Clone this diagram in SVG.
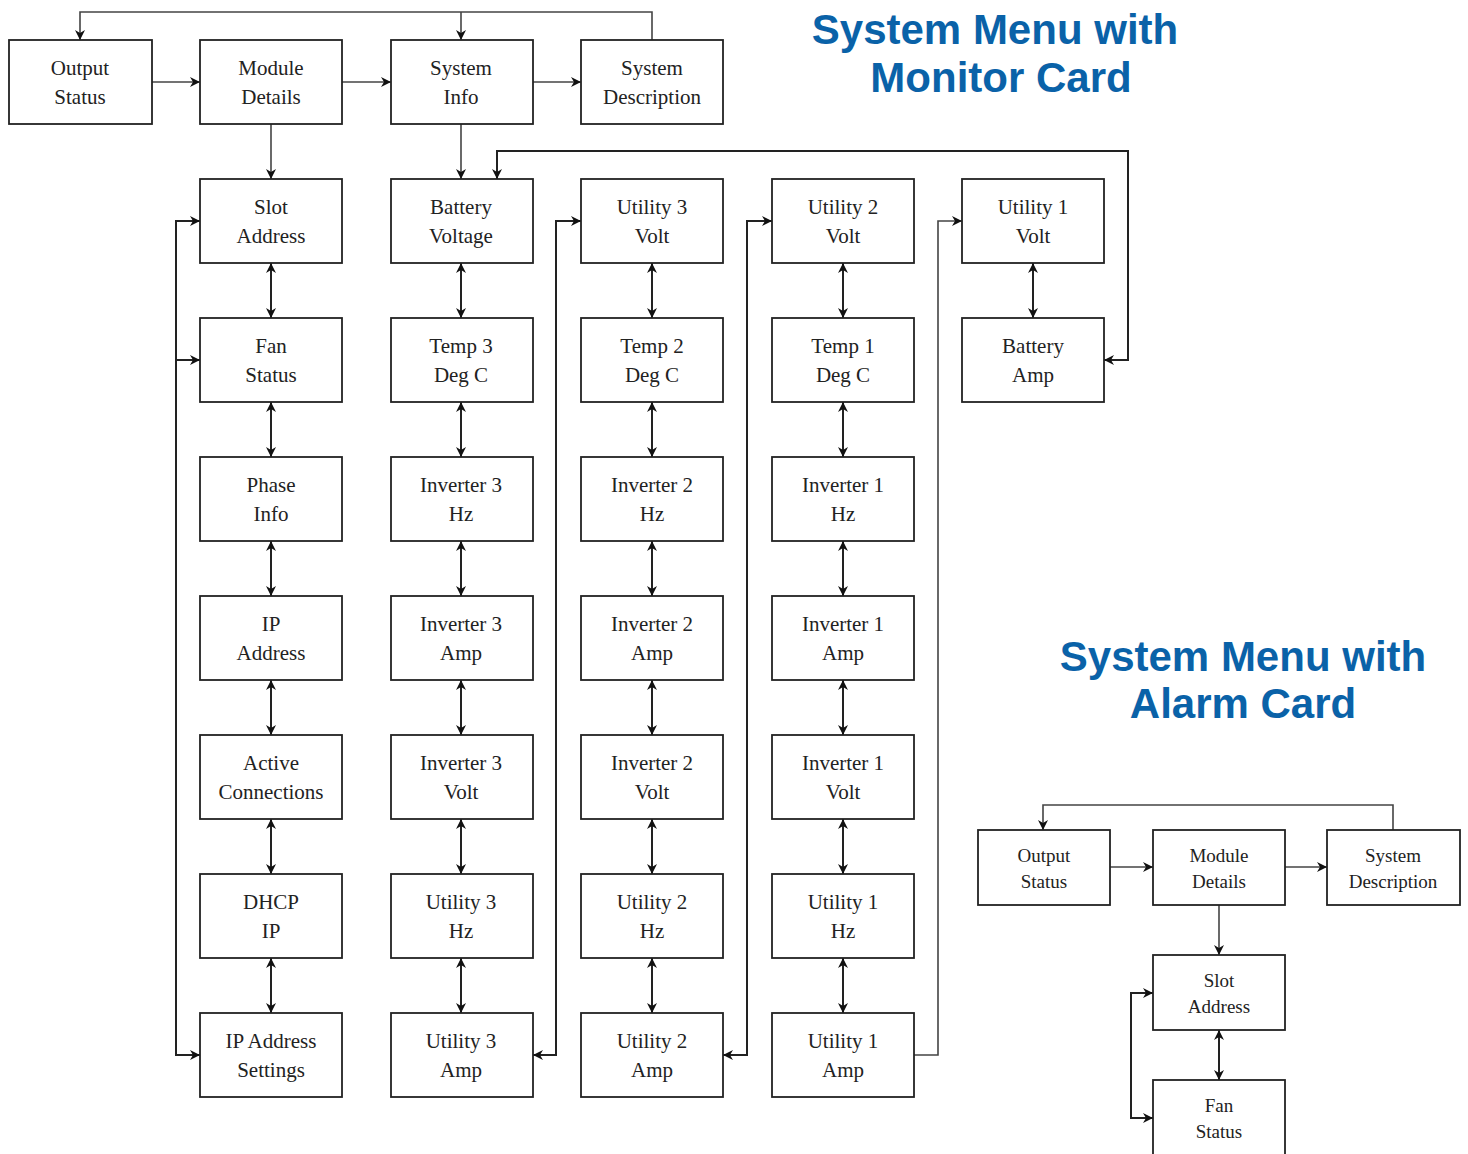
<svg xmlns="http://www.w3.org/2000/svg" width="1468" height="1154" viewBox="0 0 1468 1154">
<defs>
<style>
.box{fill:#fff;stroke:#222;stroke-width:1.8}
.t{font-family:"Liberation Serif","Times New Roman",serif;font-size:21px;fill:#222;text-anchor:middle}
.ts{font-family:"Liberation Serif","Times New Roman",serif;font-size:19px;fill:#222;text-anchor:middle}
.title{font-family:"Liberation Sans",Arial,sans-serif;font-size:42px;font-weight:bold;fill:#0a62a8;text-anchor:middle}
.c{fill:none;stroke:#222;stroke-width:2}
.c1{fill:none;stroke:#444;stroke-width:1.6}
</style>
<marker id="a" viewBox="0 0 10 10" refX="10" refY="5" markerWidth="10" markerHeight="10" markerUnits="userSpaceOnUse" orient="auto-start-reverse">
<path d="M0,0 L10,5 L0,10 L3,5 Z" fill="#111"/>
</marker>
</defs>

<g id="titles">
<text class="title" x="995" y="44">System Menu with</text>
<text class="title" x="1001" y="92">Monitor Card</text>
<text class="title" x="1243" y="671">System Menu with</text>
<text class="title" x="1243" y="718">Alarm Card</text>
</g>

<g id="connectors">
<!-- top row -->
<polyline class="c1" points="652,40 652,12 80,12 80,40" marker-end="url(#a)"/>
<line class="c1" x1="461" y1="12" x2="461" y2="40" marker-end="url(#a)"/>
<line class="c1" x1="152" y1="82" x2="200" y2="82" marker-end="url(#a)"/>
<line class="c1" x1="342" y1="82" x2="391" y2="82" marker-end="url(#a)"/>
<line class="c1" x1="533" y1="82" x2="581" y2="82" marker-end="url(#a)"/>
<line class="c1" x1="271" y1="124" x2="271" y2="179" marker-end="url(#a)"/>
<line class="c1" x1="461" y1="124" x2="461" y2="179" marker-end="url(#a)"/>
<!-- column double arrows -->
<g id="dbl">
<line class="c" x1="271" y1="263" x2="271" y2="318" marker-start="url(#a)" marker-end="url(#a)"/>
<line class="c" x1="271" y1="402" x2="271" y2="457" marker-start="url(#a)" marker-end="url(#a)"/>
<line class="c" x1="271" y1="541" x2="271" y2="596" marker-start="url(#a)" marker-end="url(#a)"/>
<line class="c" x1="271" y1="680" x2="271" y2="735" marker-start="url(#a)" marker-end="url(#a)"/>
<line class="c" x1="271" y1="819" x2="271" y2="874" marker-start="url(#a)" marker-end="url(#a)"/>
<line class="c" x1="271" y1="958" x2="271" y2="1013" marker-start="url(#a)" marker-end="url(#a)"/>
<line class="c" x1="461" y1="263" x2="461" y2="318" marker-start="url(#a)" marker-end="url(#a)"/>
<line class="c" x1="461" y1="402" x2="461" y2="457" marker-start="url(#a)" marker-end="url(#a)"/>
<line class="c" x1="461" y1="541" x2="461" y2="596" marker-start="url(#a)" marker-end="url(#a)"/>
<line class="c" x1="461" y1="680" x2="461" y2="735" marker-start="url(#a)" marker-end="url(#a)"/>
<line class="c" x1="461" y1="819" x2="461" y2="874" marker-start="url(#a)" marker-end="url(#a)"/>
<line class="c" x1="461" y1="958" x2="461" y2="1013" marker-start="url(#a)" marker-end="url(#a)"/>
<line class="c" x1="652" y1="263" x2="652" y2="318" marker-start="url(#a)" marker-end="url(#a)"/>
<line class="c" x1="652" y1="402" x2="652" y2="457" marker-start="url(#a)" marker-end="url(#a)"/>
<line class="c" x1="652" y1="541" x2="652" y2="596" marker-start="url(#a)" marker-end="url(#a)"/>
<line class="c" x1="652" y1="680" x2="652" y2="735" marker-start="url(#a)" marker-end="url(#a)"/>
<line class="c" x1="652" y1="819" x2="652" y2="874" marker-start="url(#a)" marker-end="url(#a)"/>
<line class="c" x1="652" y1="958" x2="652" y2="1013" marker-start="url(#a)" marker-end="url(#a)"/>
<line class="c" x1="843" y1="263" x2="843" y2="318" marker-start="url(#a)" marker-end="url(#a)"/>
<line class="c" x1="843" y1="402" x2="843" y2="457" marker-start="url(#a)" marker-end="url(#a)"/>
<line class="c" x1="843" y1="541" x2="843" y2="596" marker-start="url(#a)" marker-end="url(#a)"/>
<line class="c" x1="843" y1="680" x2="843" y2="735" marker-start="url(#a)" marker-end="url(#a)"/>
<line class="c" x1="843" y1="819" x2="843" y2="874" marker-start="url(#a)" marker-end="url(#a)"/>
<line class="c" x1="843" y1="958" x2="843" y2="1013" marker-start="url(#a)" marker-end="url(#a)"/>
<line class="c" x1="1033" y1="263" x2="1033" y2="318" marker-start="url(#a)" marker-end="url(#a)"/>
</g>
<!-- loops -->
<polyline class="c" points="200,221 176,221 176,1055 200,1055" marker-start="url(#a)" marker-end="url(#a)"/>
<line class="c" x1="176" y1="360" x2="200" y2="360" marker-end="url(#a)"/>
<polyline class="c" points="533,1055 556,1055 556,221 581,221" marker-start="url(#a)" marker-end="url(#a)"/>
<polyline class="c" points="723,1055 747,1055 747,221 772,221" marker-start="url(#a)" marker-end="url(#a)"/>
<polyline class="c1" points="914,1055 938,1055 938,221 962,221" marker-end="url(#a)"/>
<polyline class="c" points="497,179 497,151 1128,151 1128,360 1104,360" marker-start="url(#a)" marker-end="url(#a)"/>
<!-- alarm card -->
<polyline class="c1" points="1393,830 1393,805 1043,805 1043,830" marker-end="url(#a)"/>
<line class="c1" x1="1110" y1="867" x2="1153" y2="867" marker-end="url(#a)"/>
<line class="c1" x1="1285" y1="867" x2="1327" y2="867" marker-end="url(#a)"/>
<line class="c1" x1="1219" y1="905" x2="1219" y2="955" marker-end="url(#a)"/>
<line class="c" x1="1219" y1="1030" x2="1219" y2="1080" marker-start="url(#a)" marker-end="url(#a)"/>
<polyline class="c" points="1153,993 1131,993 1131,1118 1153,1118" marker-start="url(#a)" marker-end="url(#a)"/>
</g>

<g id="n-output"><rect class="box" x="9" y="40" width="143" height="84"/><text class="t" x="80" y="75">Output</text><text class="t" x="80" y="104">Status</text></g>
<g id="n-module"><rect class="box" x="200" y="40" width="142" height="84"/><text class="t" x="271" y="75">Module</text><text class="t" x="271" y="104">Details</text></g>
<g id="n-sysinfo"><rect class="box" x="391" y="40" width="142" height="84"/><text class="t" x="461" y="75">System</text><text class="t" x="461" y="104">Info</text></g>
<g id="n-sysdesc"><rect class="box" x="581" y="40" width="142" height="84"/><text class="t" x="652" y="75">System</text><text class="t" x="652" y="104">Description</text></g>

<g id="n-c1r1"><rect class="box" x="200" y="179" width="142" height="84"/><text class="t" x="271" y="214">Slot</text><text class="t" x="271" y="243">Address</text></g>
<g id="n-c1r2"><rect class="box" x="200" y="318" width="142" height="84"/><text class="t" x="271" y="353">Fan</text><text class="t" x="271" y="382">Status</text></g>
<g id="n-c1r3"><rect class="box" x="200" y="457" width="142" height="84"/><text class="t" x="271" y="492">Phase</text><text class="t" x="271" y="521">Info</text></g>
<g id="n-c1r4"><rect class="box" x="200" y="596" width="142" height="84"/><text class="t" x="271" y="631">IP</text><text class="t" x="271" y="660">Address</text></g>
<g id="n-c1r5"><rect class="box" x="200" y="735" width="142" height="84"/><text class="t" x="271" y="770">Active</text><text class="t" x="271" y="799">Connections</text></g>
<g id="n-c1r6"><rect class="box" x="200" y="874" width="142" height="84"/><text class="t" x="271" y="909">DHCP</text><text class="t" x="271" y="938">IP</text></g>
<g id="n-c1r7"><rect class="box" x="200" y="1013" width="142" height="84"/><text class="t" x="271" y="1048">IP Address</text><text class="t" x="271" y="1077">Settings</text></g>

<g id="n-c2r1"><rect class="box" x="391" y="179" width="142" height="84"/><text class="t" x="461" y="214">Battery</text><text class="t" x="461" y="243">Voltage</text></g>
<g id="n-c2r2"><rect class="box" x="391" y="318" width="142" height="84"/><text class="t" x="461" y="353">Temp 3</text><text class="t" x="461" y="382">Deg C</text></g>
<g id="n-c2r3"><rect class="box" x="391" y="457" width="142" height="84"/><text class="t" x="461" y="492">Inverter 3</text><text class="t" x="461" y="521">Hz</text></g>
<g id="n-c2r4"><rect class="box" x="391" y="596" width="142" height="84"/><text class="t" x="461" y="631">Inverter 3</text><text class="t" x="461" y="660">Amp</text></g>
<g id="n-c2r5"><rect class="box" x="391" y="735" width="142" height="84"/><text class="t" x="461" y="770">Inverter 3</text><text class="t" x="461" y="799">Volt</text></g>
<g id="n-c2r6"><rect class="box" x="391" y="874" width="142" height="84"/><text class="t" x="461" y="909">Utility 3</text><text class="t" x="461" y="938">Hz</text></g>
<g id="n-c2r7"><rect class="box" x="391" y="1013" width="142" height="84"/><text class="t" x="461" y="1048">Utility 3</text><text class="t" x="461" y="1077">Amp</text></g>

<g id="n-c3r1"><rect class="box" x="581" y="179" width="142" height="84"/><text class="t" x="652" y="214">Utility 3</text><text class="t" x="652" y="243">Volt</text></g>
<g id="n-c3r2"><rect class="box" x="581" y="318" width="142" height="84"/><text class="t" x="652" y="353">Temp 2</text><text class="t" x="652" y="382">Deg C</text></g>
<g id="n-c3r3"><rect class="box" x="581" y="457" width="142" height="84"/><text class="t" x="652" y="492">Inverter 2</text><text class="t" x="652" y="521">Hz</text></g>
<g id="n-c3r4"><rect class="box" x="581" y="596" width="142" height="84"/><text class="t" x="652" y="631">Inverter 2</text><text class="t" x="652" y="660">Amp</text></g>
<g id="n-c3r5"><rect class="box" x="581" y="735" width="142" height="84"/><text class="t" x="652" y="770">Inverter 2</text><text class="t" x="652" y="799">Volt</text></g>
<g id="n-c3r6"><rect class="box" x="581" y="874" width="142" height="84"/><text class="t" x="652" y="909">Utility 2</text><text class="t" x="652" y="938">Hz</text></g>
<g id="n-c3r7"><rect class="box" x="581" y="1013" width="142" height="84"/><text class="t" x="652" y="1048">Utility 2</text><text class="t" x="652" y="1077">Amp</text></g>

<g id="n-c4r1"><rect class="box" x="772" y="179" width="142" height="84"/><text class="t" x="843" y="214">Utility 2</text><text class="t" x="843" y="243">Volt</text></g>
<g id="n-c4r2"><rect class="box" x="772" y="318" width="142" height="84"/><text class="t" x="843" y="353">Temp 1</text><text class="t" x="843" y="382">Deg C</text></g>
<g id="n-c4r3"><rect class="box" x="772" y="457" width="142" height="84"/><text class="t" x="843" y="492">Inverter 1</text><text class="t" x="843" y="521">Hz</text></g>
<g id="n-c4r4"><rect class="box" x="772" y="596" width="142" height="84"/><text class="t" x="843" y="631">Inverter 1</text><text class="t" x="843" y="660">Amp</text></g>
<g id="n-c4r5"><rect class="box" x="772" y="735" width="142" height="84"/><text class="t" x="843" y="770">Inverter 1</text><text class="t" x="843" y="799">Volt</text></g>
<g id="n-c4r6"><rect class="box" x="772" y="874" width="142" height="84"/><text class="t" x="843" y="909">Utility 1</text><text class="t" x="843" y="938">Hz</text></g>
<g id="n-c4r7"><rect class="box" x="772" y="1013" width="142" height="84"/><text class="t" x="843" y="1048">Utility 1</text><text class="t" x="843" y="1077">Amp</text></g>

<g id="n-c5r1"><rect class="box" x="962" y="179" width="142" height="84"/><text class="t" x="1033" y="214">Utility 1</text><text class="t" x="1033" y="243">Volt</text></g>
<g id="n-c5r2"><rect class="box" x="962" y="318" width="142" height="84"/><text class="t" x="1033" y="353">Battery</text><text class="t" x="1033" y="382">Amp</text></g>

<g id="a-output"><rect class="box" x="978" y="830" width="132" height="75"/><text class="ts" x="1044" y="862">Output</text><text class="ts" x="1044" y="888">Status</text></g>
<g id="a-module"><rect class="box" x="1153" y="830" width="132" height="75"/><text class="ts" x="1219" y="862">Module</text><text class="ts" x="1219" y="888">Details</text></g>
<g id="a-sysdesc"><rect class="box" x="1327" y="830" width="133" height="75"/><text class="ts" x="1393" y="862">System</text><text class="ts" x="1393" y="888">Description</text></g>
<g id="a-slot"><rect class="box" x="1153" y="955" width="132" height="75"/><text class="ts" x="1219" y="987">Slot</text><text class="ts" x="1219" y="1013">Address</text></g>
<g id="a-fan"><rect class="box" x="1153" y="1080" width="132" height="80"/><text class="ts" x="1219" y="1112">Fan</text><text class="ts" x="1219" y="1138">Status</text></g>
</svg>
